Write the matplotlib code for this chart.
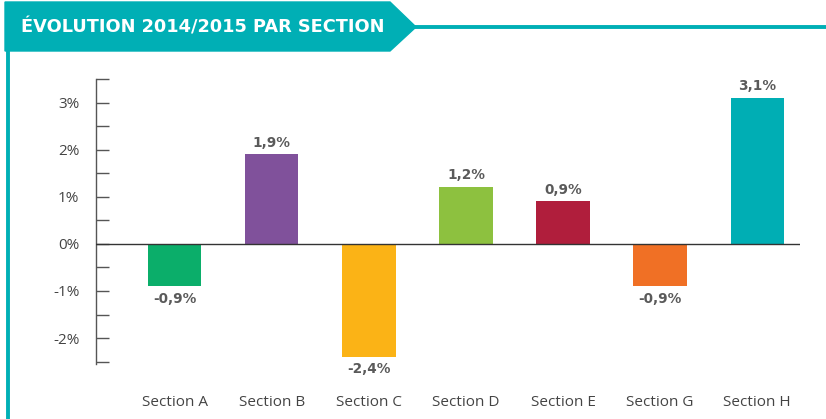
import matplotlib.pyplot as plt
from matplotlib.patches import Polygon
from matplotlib.lines import Line2D
from matplotlib.ticker import MultipleLocator

sections = ['Section A', 'Section B', 'Section C', 'Section D', 'Section E', 'Section G', 'Section H']
values = [-0.9, 1.9, -2.4, 1.2, 0.9, -0.9, 3.1]
labels = ['-0,9%', '1,9%', '-2,4%', '1,2%', '0,9%', '-0,9%', '3,1%']
colors = ['#0BAE6A', '#80519B', '#FBB316', '#8DC13F', '#B01E3C', '#F07025', '#00AEB4']
yticks = [-2, -1, 0, 1, 2, 3]
yticklabels = ['-2%', '-1%', '0%', '1%', '2%', '3%']
title = 'ÉVOLUTION 2014/2015 PAR SECTION'

teal = '#00AFB5'
W, H = 826, 419
fig = plt.figure(figsize=(W / 100, H / 100), dpi=100)

# header banner + frame lines (figure pixel coords, y from top)
def px(x, y):
    return (x / W, 1 - y / H)

banner = Polygon([px(5, 2), px(390, 2), px(416, 27), px(390, 51), px(5, 51)],
                 closed=True, transform=fig.transFigure, color=teal, zorder=1)
fig.patches.append(banner)
fig.lines.append(Line2D([px(414, 27)[0], 1], [px(414, 27)[1]] * 2, transform=fig.transFigure,
                        color=teal, lw=2.8))
fig.lines.append(Line2D([px(8, 0)[0]] * 2, [px(0, 50)[1], 0], transform=fig.transFigure,
                        color=teal, lw=2.8))
fig.text(px(21, 0)[0], px(0, 28)[1], title, color='white', fontsize=12.8,
         fontweight='bold', family='DejaVu Sans', va='center', ha='left')

ax = fig.add_axes([96 / W, 1 - 364 / H, (800 - 96) / W, (364 - 79) / H])
x = range(len(sections))
ax.bar(x, values, width=0.55, color=colors, zorder=2)
ax.axhline(0, color='#333333', lw=1, zorder=3)

for i, (v, lab) in enumerate(zip(values, labels)):
    off = 3.5 if v > 0 else -4
    ax.annotate(lab, (i, v), xytext=(0, off), textcoords='offset points',
                ha='center', va='bottom' if v > 0 else 'top',
                fontsize=9.8, fontweight='bold', color='#5a5a5a', family='DejaVu Sans')

ax.set_xlim(-0.81, 6.44)
ax.set_ylim(-2.55, 3.5)
ax.set_yticks(yticks)
ax.set_yticklabels(yticklabels, family='Open Sans', fontsize=11, color='#444444')
ax.yaxis.set_minor_locator(MultipleLocator(0.5))
ax.tick_params(axis='y', which='both', direction='in', length=9, width=1, color='#555555', pad=12)
ax.set_xticks(list(x))
ax.set_xticklabels(sections, family='Open Sans', fontsize=11, color='#444444')
ax.tick_params(axis='x', length=0, pad=22)

for s in ['top', 'right', 'bottom']:
    ax.spines[s].set_visible(False)
ax.spines['left'].set_color('#555555')
ax.spines['left'].set_linewidth(1)

fig.savefig('out.png', dpi=100)
